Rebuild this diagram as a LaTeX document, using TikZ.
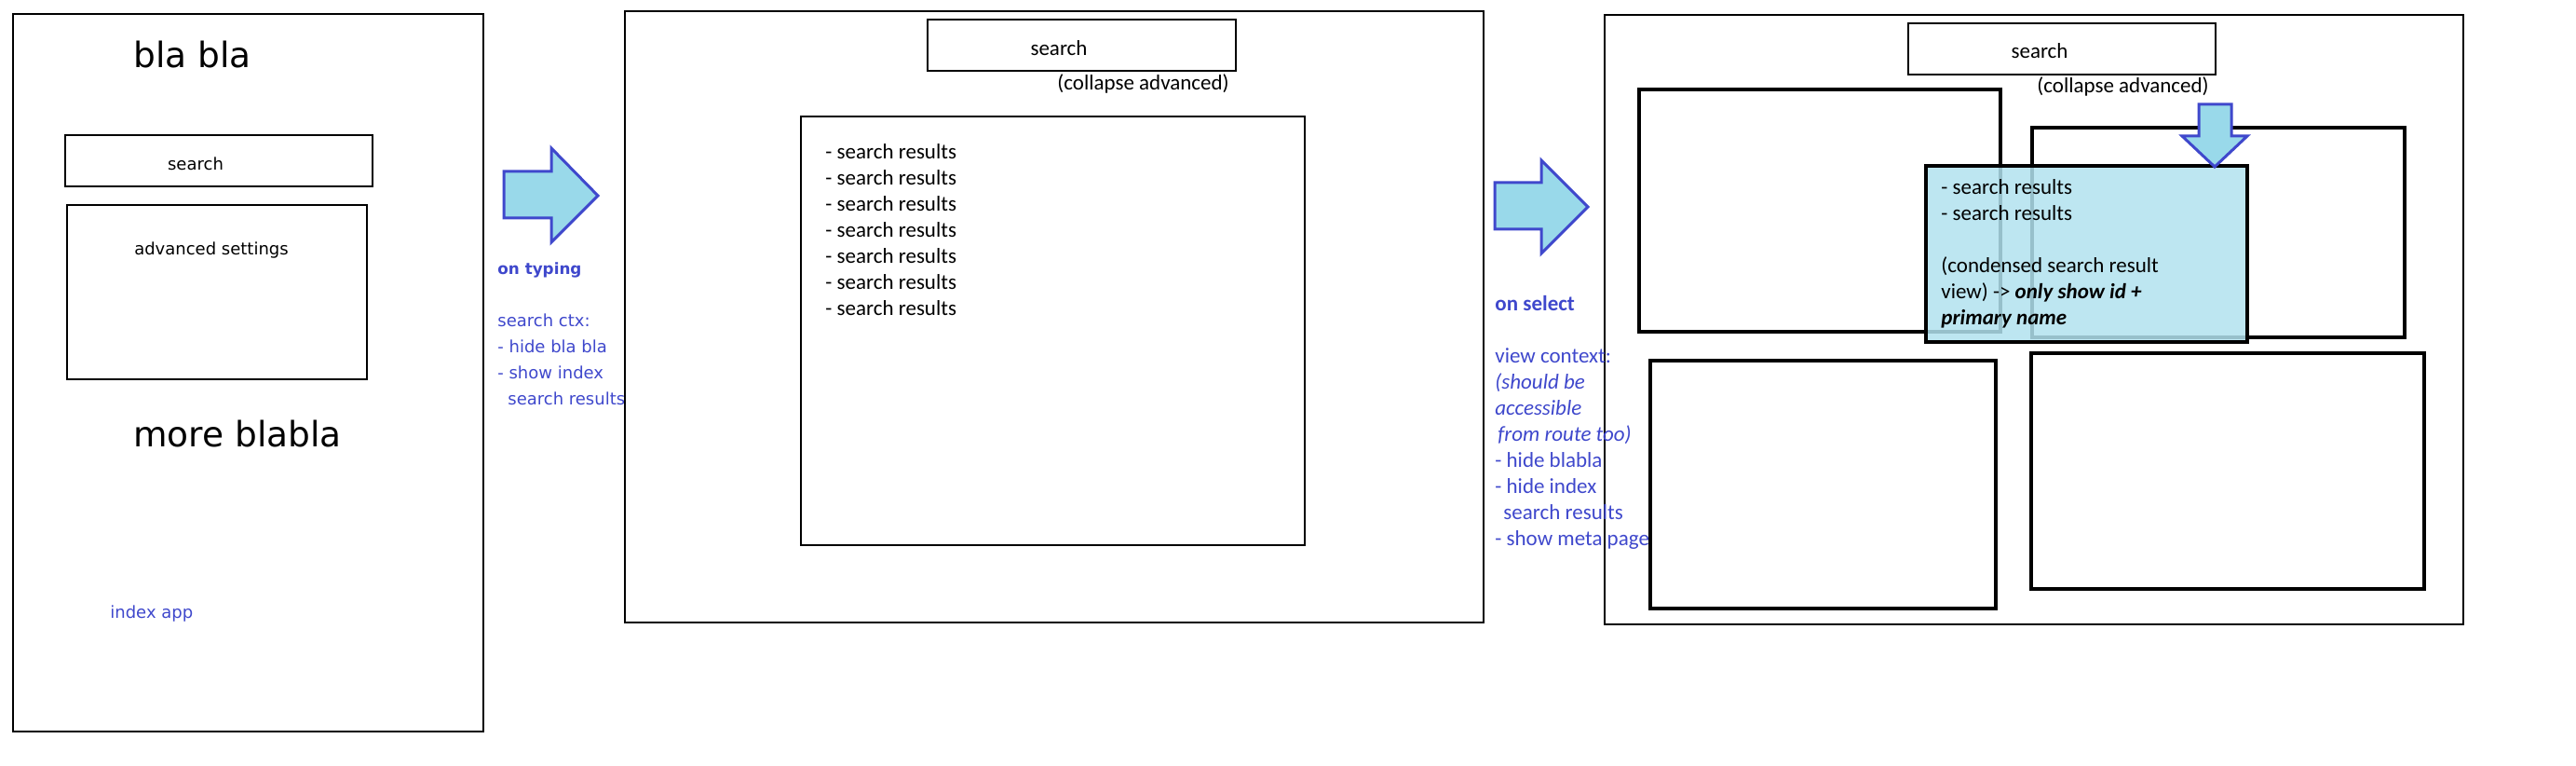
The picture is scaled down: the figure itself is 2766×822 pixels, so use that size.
\documentclass[tikz,border=0pt]{standalone}
\usepackage{fontspec}
\setmainfont{Carlito}
\newfontfamily\verd{DejaVu Sans}
\usetikzlibrary{fit}
\definecolor{ind}{HTML}{3F48CC}
\definecolor{turq}{HTML}{99D9EA}
\begin{document}
\begin{tikzpicture}[x=0.5pt,y=-0.5pt,
  frame/.style={draw=black, line width=0.6pt, inner sep=0pt},
  heavybox/.style={draw=black, line width=1.6pt, inner sep=0pt},
  blockarrow/.style={draw=ind, line width=1.5pt, fill=turq, line join=miter},
  vfont/.style={font=\verd\fontsize{9pt}{14pt}\selectfont},
  vbig/.style={font=\verd\fontsize{18.75pt}{22pt}\selectfont},
  cfont/.style={font=\fontsize{11.5pt}{14pt}\selectfont},
  lbl/.style={inner sep=0pt, anchor=base west, align=left},
  clbl/.style={inner sep=0pt, anchor=base},
]
\useasboundingbox[fill=white] (0,0) rectangle (2766,822);

% ---------------- panel 1 ----------------
\node[frame, fit={(14,15) (519,785)}] (p1) {};
\node[frame, fit={(70,145) (400,200)}] (p1search) {};
\node[frame, fit={(72,220) (394,407)}] (p1adv) {};
\node[lbl, vbig] (blabla) at (143,73) {bla bla};
\node[clbl, vfont] (p1searchtxt) at (210,183) {search};
\node[clbl, vfont] (advtxt) at (227,274) {advanced settings};
\node[lbl, vbig] (moreblabla) at (143,480) {more blabla};
\node[lbl, vfont, text=ind] (indexapp) at (118,663) {index app};

% arrow 1
\draw[blockarrow] (541,184) -- (592,184) -- (592,159) -- (642,210) -- (592,260) -- (592,234) -- (541,234) -- cycle;
% (multi-line labels are anchored at the baseline of their last line)
\node[lbl, vfont, text=ind] (ann1) at (534,435)
  {{\fontsize{8.4pt}{14pt}\selectfont\bfseries on typing}\\[14pt]
   search ctx:\\- hide bla bla\\- show index\\\hspace{5.5pt}search results};

% ---------------- panel 2 ----------------
\node[frame, fit={(671,12) (1593,668)}] (p2) {};
\node[frame, fit={(996,21) (1327,76)}] (p2search) {};
\node[frame, fit={(860,125) (1401,585)}] (p2res) {};
\node[clbl, cfont] (p2searchtxt) at (1137,60) {search};
\node[lbl, cfont] (p2collapse) at (1135,97) {(collapse advanced)};
\node[lbl, cfont] (p2results) at (886,339)
  {- search results\\- search results\\- search results\\- search results\\- search results\\- search results\\- search results};

% arrow 2
\draw[blockarrow] (1605,196) -- (1655,196) -- (1655,172) -- (1705,222) -- (1655,272) -- (1655,246) -- (1605,246) -- cycle;

% ---------------- panel 3 ----------------
\node[frame, fit={(1723,16) (2645,670)}] (p3) {};
\node[frame, fit={(2049,25) (2379,80)}] (p3search) {};
\node[clbl, cfont] (p3searchtxt) at (2190,63) {search};
\node[lbl, cfont] (p3collapse) at (2187,100) {(collapse advanced)};
\node[heavybox, fit={(1760,96) (2148,356)}] (tl) {};
\node[heavybox, fit={(2182,137) (2582,362)}] (tr) {};
\node[heavybox, fit={(1772,387) (2143,653)}] (bl) {};
\node[heavybox, fit={(2181,379) (2603,632)}] (br) {};

\node[lbl, cfont, text=ind] (ann2) at (1605,586)
  {\textbf{on select}\\[14pt]
   view context:\\\textit{(should be}\\\textit{accessible}\\\hspace{1.5pt}\textit{from route too)}\\
   - hide blabla\\- hide index\\\hspace{4.5pt}search results\\- show meta page};

% overlay (condensed results)
\node[inner sep=0pt, fit={(2068,178) (2413,367)}, fill=turq!75!white, fill opacity=0.85] (ov) {};
\draw[black, line width=2pt] (ov.north west) rectangle (ov.south east);
\node[lbl, cfont] (ovtxt) at (2084,349)
  {- search results\\- search results\\[14pt](condensed search result\\
   view) -> \textbf{\textit{only show id +}}\\\textbf{\textit{primary name}}};

% arrow down
\draw[blockarrow] (2361,112) -- (2396,112) -- (2396,146) -- (2413,146) -- (2378,179) -- (2343,146) -- (2361,146) -- cycle;
\end{tikzpicture}
\end{document}
